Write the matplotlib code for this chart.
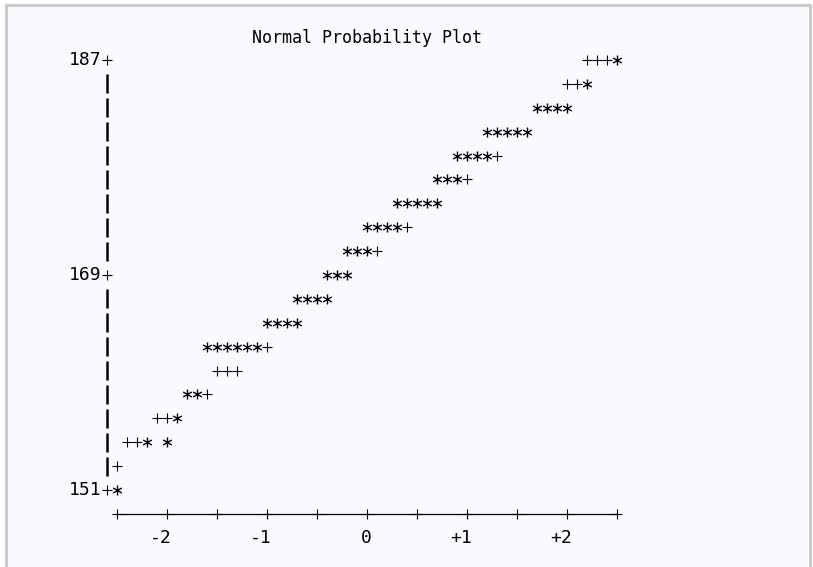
import numpy as np
import matplotlib
matplotlib.use("Agg")
import matplotlib.pyplot as plt
from matplotlib.path import Path
from matplotlib.patches import Rectangle

# line-printer style normal probability plot: '*' = data, '+' = reference line
row_y = [187, 185, 183, 181, 179, 177, 175, 173, 171, 169,
         167, 165, 163, 161, 159, 157, 155, 153, 151]
row_start = [2.2, 2.0, 1.7, 1.2, 0.9, 0.7, 0.3, 0.0, -0.2, -0.4,
             -0.7, -1.0, -1.6, -1.5, -1.8, -2.1, -2.4, -2.5, -2.5]
row_marks = ["+++*", "++*", "****", "*****", "****+", "***+", "*****", "****+", "***+", "***",
             "****", "****", "******+", "+++", "**+", "++*", "++* *", "+", "*"]

y_ticks = [187, 169, 151]
x_ticks = [-2.5, -2.0, -1.5, -1.0, -0.5, 0.0, 0.5, 1.0, 1.5, 2.0, 2.5]
x_label_pos = [-2, -1, 0, 1, 2]
x_labels = ["-2", "-1", "0", "+1", "+2"]

COL = 0.1      # one character column in z units
ROW = 2        # one text row in data units
FONT = "DejaVu Sans Mono"

star_z, star_y, plus_z, plus_y = [], [], [], []
for y, z0, s in zip(row_y, row_start, row_marks):
    for i, ch in enumerate(s):
        if ch == "*":
            star_z.append(z0 + i * COL)
            star_y.append(y)
        elif ch == "+":
            plus_z.append(z0 + i * COL)
            plus_y.append(y)

# asterisk glyph as a marker (three crossing strokes)
c, s_ = 0.866, 0.5
ast = Path([(0, -1), (0, 1), (-c, -s_), (c, s_), (-c, s_), (c, -s_)],
           [Path.MOVETO, Path.LINETO] * 3)

fig = plt.figure(figsize=(8.13, 5.67), dpi=100)
fig.patch.set_facecolor("white")
fig.patches.append(Rectangle((6 / 813, -0.1), 804 / 813, 1.1 - 5 / 567,
                             transform=fig.transFigure, facecolor="#f9faff",
                             edgecolor="#c8c8c8", lw=2, zorder=-10))
ax = fig.add_axes([0, 0, 1, 1])
ax.set_facecolor("none")
ax.axis("off")
ax.set_xlim(-3.667, 4.463)
ax.set_ylim(144.55, 192.02)

ax.plot(star_z, star_y, linestyle="none", marker=ast, ms=7.2,
        mec="black", mew=1.0)
ax.plot(plus_z, plus_y, linestyle="none", marker="+", ms=7,
        mec="black", mew=0.8)

# vertical axis
axis_z = x_ticks[0] - COL
for y in range(y_ticks[-1], y_ticks[0] + 1, ROW):
    if y in y_ticks:
        ax.plot([axis_z], [y], linestyle="none", marker="+", ms=7, mec="black", mew=0.8)
        ax.text(axis_z - COL / 2, y, str(y), ha="right", va="center",
                family=FONT, fontsize=13)
    else:
        ax.plot([axis_z, axis_z], [y - 0.8, y + 0.8], color="black", lw=1.8,
                solid_capstyle="butt")

# horizontal axis
base_y = y_ticks[-1] - ROW
ax.plot([x_ticks[0], x_ticks[-1]], [base_y, base_y], color="black", lw=0.9)
ax.plot(x_ticks, [base_y] * len(x_ticks), linestyle="none", marker="+", ms=7,
        mec="black", mew=0.8)
for z, lab in zip(x_label_pos, x_labels):
    ax.text(z + COL / 2, base_y - ROW, lab, ha="right", va="center",
            family=FONT, fontsize=13)

ax.text(0.0, y_ticks[0] + ROW - 0.15, "Normal Probability Plot", ha="center", va="center",
        family=FONT, fontsize=12)

fig.savefig("out.png", dpi=100, facecolor=fig.get_facecolor())
